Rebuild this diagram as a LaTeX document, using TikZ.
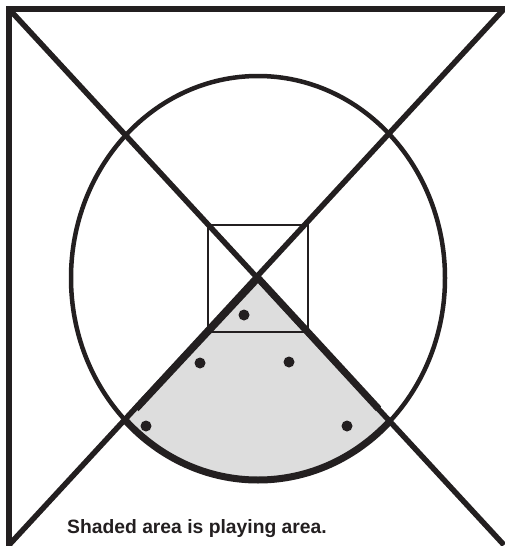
\documentclass[tikz,border=0pt]{standalone}
\usepackage{fontspec}
\setmainfont{Liberation Sans}
\usetikzlibrary{calc}
\definecolor{fieldink}{HTML}{231F20}
\definecolor{fieldshade}{HTML}{DDDDDD}
\begin{document}
\begin{tikzpicture}[
      x=1pt, y=-1pt,
      frameline/.style={draw=fieldink, line width=5.5pt, line cap=rect},
      ringline/.style={draw=fieldink, line width=4.5pt},
      edgeline/.style={draw=fieldink, line width=7pt},
      boxline/.style={draw=fieldink, line width=2pt},
      stone/.style={circle, fill=fieldink, inner sep=0pt, minimum size=11pt},
      caption/.style={font=\bfseries\fontsize{19.3}{22}\selectfont, text=fieldink, inner sep=0pt}
    ]
      \useasboundingbox (0,0) rectangle (505,546);

      % Corners and centre
      \coordinate (tl) at (9,9);
      \coordinate (tr) at (504,9);
      \coordinate (bl) at (9,545);
      \coordinate (br) at (504,545);
      \coordinate (mid) at (258,278);

      % Playing area
      \begin{scope}
        \clip (mid) -- (bl) -- (br) -- cycle;
        \fill[fieldshade] (mid) ellipse [x radius=187, y radius=202];
      \end{scope}

      % Small square
      \draw[boxline] (208,225) rectangle (308,332);

      % Circle
      \draw[ringline] (mid) ellipse [x radius=187, y radius=202];
      \begin{scope}
        \clip (mid) -- (bl) -- (br) -- cycle;
        \draw[edgeline] (mid) ellipse [x radius=187, y radius=202];
      \end{scope}

      % Frame and diagonals
      \draw[frameline] (bl) -- (tl) -- (tr);
      \draw[frameline, line cap=butt] (tl) -- (br);
      \draw[frameline, line cap=butt] (tr) -- (bl);
      \draw[edgeline] ($(mid)!0.49!(bl)$) -- (mid) -- ($(mid)!0.49!(br)$);

      % Stones
      \node[stone] (s1) at (244,315) {};
      \node[stone] (s2) at (200,363) {};
      \node[stone] (s3) at (289,362) {};
      \node[stone] (s4) at (146,426) {};
      \node[stone] (s5) at (347,426) {};

      % Caption
      \node[caption, anchor=base west] (note) at (67,533) {Shaded area is playing area.};
    \end{tikzpicture}
\end{document}
